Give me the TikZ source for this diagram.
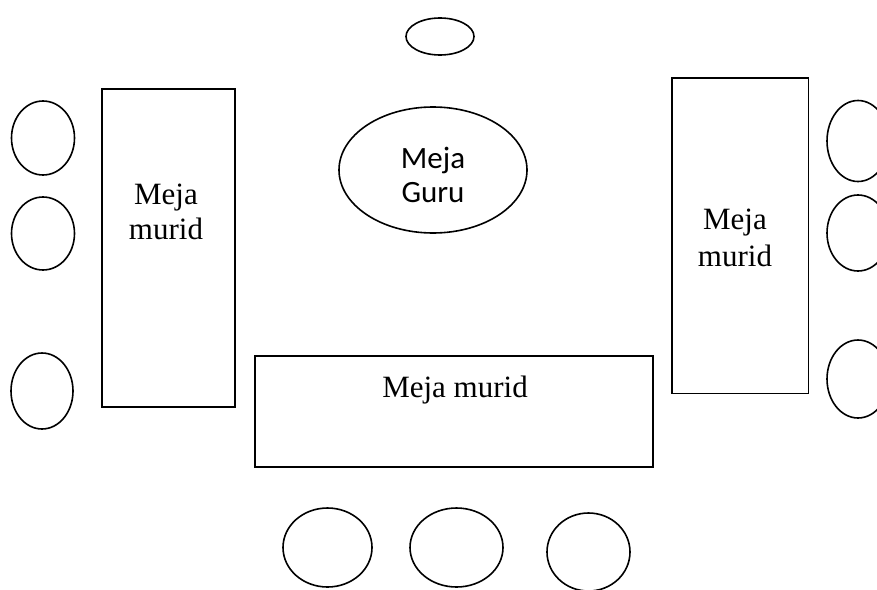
\documentclass[tikz,border=0pt]{standalone}
\usepackage{fontspec}
\setmainfont{Liberation Serif}
\newfontfamily\calibri{Carlito}
\usetikzlibrary{shapes.geometric}
\begin{document}
\begin{tikzpicture}[x=1pt,y=-1pt,
  seat/.style={draw, line width=1.6pt, ellipse, inner sep=0pt},
  meja/.style={draw, line width=1.6pt, rectangle, inner sep=0pt},
  lbl/.style={align=center, inner sep=0pt, font=\fontsize{31}{35}\selectfont}]
\useasboundingbox (0,0) rectangle (877,589);
\clip (0,0) rectangle (877,589);
% tables
\node[meja, minimum width=133, minimum height=318] (mL) at (168.5,248) {};
\node[meja, minimum width=136.5, minimum height=315.5] (mR) at (740.25,235.75) {};
\node[meja, minimum width=398, minimum height=111] (mB) at (454,411.5) {};
% teacher table
\node[seat, minimum width=188, minimum height=126, align=center,
      font=\calibri\fontsize{31}{34}\selectfont] (guru) at (433,170) {};
\node[align=center, inner sep=0pt, font=\calibri\fontsize{31}{34}\selectfont] (tG) at (433,175) {Meja\\Guru};
% labels
\node[lbl] (tL) at (166,212) {Meja\\murid};
\node[lbl, font=\fontsize{31}{37}\selectfont] (tR) at (735,238) {Meja\\murid};
\node[lbl, anchor=base] (tB) at (455,397) {Meja murid};
% seats
\node[seat, minimum width=68, minimum height=37] (sT) at (440,36.5) {};
\node[seat, minimum width=63, minimum height=74] (sL1) at (43,138) {};
\node[seat, minimum width=63, minimum height=73] (sL2) at (43,233.5) {};
\node[seat, minimum width=62, minimum height=76] (sL3) at (42,391) {};
\node[seat, minimum width=62, minimum height=81] (sR1) at (858,141) {};
\node[seat, minimum width=62, minimum height=76] (sR2) at (858,233) {};
\node[seat, minimum width=62, minimum height=78] (sR3) at (858,379) {};
\node[seat, minimum width=89, minimum height=79] (sB1) at (327.5,547.5) {};
\node[seat, minimum width=93, minimum height=79] (sB2) at (456.5,547.5) {};
\node[seat, minimum width=83, minimum height=78] (sB3) at (588.5,552) {};
\end{tikzpicture}
\end{document}
